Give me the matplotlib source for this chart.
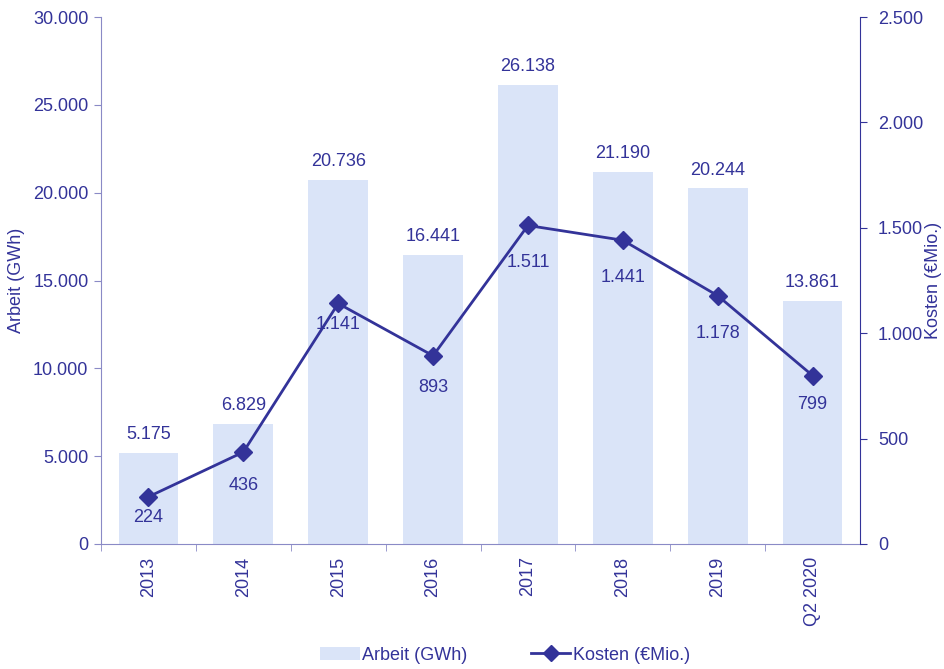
import matplotlib
matplotlib.use("Agg")
import matplotlib.pyplot as plt
from matplotlib.lines import Line2D
from matplotlib.patches import Patch
from matplotlib.ticker import FuncFormatter, FixedLocator

plt.rcParams['font.family'] = ['Liberation Sans', 'DejaVu Sans']

categories = ["2013", "2014", "2015", "2016", "2017", "2018", "2019", "Q2 2020"]
arbeit_gwh = [5175, 6829, 20736, 16441, 26138, 21190, 20244, 13861]
kosten_mio = [224, 436, 1141, 893, 1511, 1441, 1178, 799]
arbeit_labels = ["5.175", "6.829", "20.736", "16.441", "26.138", "21.190", "20.244", "13.861"]
kosten_labels = ["224", "436", "1.141", "893", "1.511", "1.441", "1.178", "799"]
# vertical offsets (points) of the cost labels below their markers
kosten_label_offsets = [-15, -24, -15, -23, -27, -27, -27, -21]

navy = "#333399"
axis_light = "#8a8ac6"
bar_color = "#dae4f8"
fs = 13

fig = plt.figure(figsize=(9.44, 6.69), dpi=100)
ax_left, ax_width = 101, 759
ax = fig.add_axes([ax_left / 944, 1 - 544 / 669, ax_width / 944, 527 / 669])
ax2 = ax.twinx()

x = list(range(len(categories)))
ax.bar(x, arbeit_gwh, width=0.63, color=bar_color, zorder=1)
ax.set_xlim(-0.5, len(categories) - 0.5)
ax.set_ylim(0, 30000)
ax.set_yticks(range(0, 30001, 5000))

thousands = FuncFormatter(lambda v, p: f"{int(v):,}".replace(",", "."))
ax.yaxis.set_major_formatter(thousands)
ax2.yaxis.set_major_formatter(thousands)

for xi, v, lab in zip(x, arbeit_gwh, arbeit_labels):
    ax.annotate(lab, (xi, v), xytext=(0, 7), textcoords="offset points",
                ha="center", va="bottom", color=navy, fontsize=fs)

ax2.plot(x, kosten_mio, color=navy, lw=2, marker="D", markersize=9, zorder=3)
ax2.set_ylim(0, 2500)
ax2.set_yticks(range(0, 2501, 500))
for xi, v, lab, off in zip(x, kosten_mio, kosten_labels, kosten_label_offsets):
    ax2.annotate(lab, (xi, v), xytext=(0, off), textcoords="offset points",
                 ha="center", va="center", color=navy, fontsize=fs)

# category ticks between bars, labels centred under bars
ax.set_xticks(x)
ax.set_xticklabels(categories, rotation=90, color=navy, fontsize=fs)
ax.tick_params(axis="x", length=0, pad=9)
ax.xaxis.set_minor_locator(FixedLocator([i + 0.5 for i in range(len(categories) - 1)] + [-0.5]))
ax.tick_params(axis="x", which="minor", length=5, color=axis_light, direction="out")

ax.tick_params(axis="y", colors=navy, labelsize=fs, length=5, color=axis_light, pad=4)
ax2.tick_params(axis="y", colors=navy, labelsize=fs, length=5, color=navy,
                direction="out", pad=8)

ax.spines["top"].set_visible(False)
ax2.spines["top"].set_visible(False)
ax.spines["left"].set_color(axis_light)
ax.spines["bottom"].set_color(axis_light)
ax.spines["right"].set_visible(False)
ax2.spines["left"].set_visible(False)
ax2.spines["bottom"].set_visible(False)
ax2.spines["right"].set_color(navy)

ax.set_ylabel("Arbeit (GWh)", color=navy, fontsize=fs, va="center")
ax.yaxis.set_label_coords((17 - ax_left) / ax_width, 0.5)
ax2.set_ylabel("Kosten (€Mio.)", color=navy, fontsize=fs, rotation=90, va="center")
ax2.yaxis.set_label_coords((934 - ax_left) / ax_width, 0.5)

handles = [Patch(facecolor=bar_color, edgecolor="none"),
           Line2D([0], [0], color=navy, lw=2, marker="D", markersize=8)]
fig.legend(handles, ["Arbeit (GWh)", "Kosten (€Mio.)"], loc="center",
           bbox_to_anchor=(505 / 944, 1 - 655 / 669), ncol=2, frameon=False,
           fontsize=fs, labelcolor=navy, handlelength=2.2, handletextpad=0.15,
           columnspacing=3.5)

fig.savefig("out.png", dpi=100)
